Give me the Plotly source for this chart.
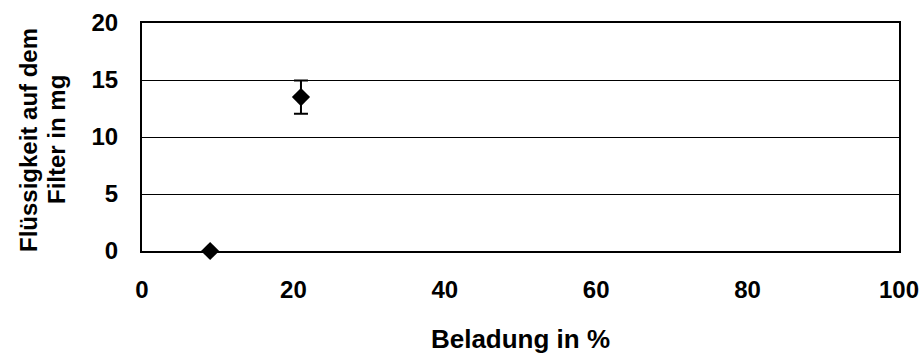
import plotly.graph_objects as go

# Loading (%) vs. liquid retained on the filter (mg)
beladung = [9, 21]
fluessigkeit = [0.0, 13.5]
fehler = [0.0, 1.45]

x_ticks = [0, 20, 40, 60, 80, 100]
y_ticks = [0, 5, 10, 15, 20]

x_title = "Beladung in %"
y_title_lines = ["Flüssigkeit auf dem", "Filter in mg"]

font_family = "Liberation Sans, Arial, sans-serif"

fig = go.Figure()
fig.add_trace(go.Scatter(
    x=beladung,
    y=fluessigkeit,
    mode="markers",
    marker=dict(symbol="diamond", size=14, color="black"),
    error_y=dict(type="data", array=fehler, visible=True,
                 color="black", thickness=2, width=7),
    cliponaxis=False,
    showlegend=False,
))

fig.update_layout(
    width=924,
    height=354,
    margin=dict(l=142, r=25, t=23, b=103, autoexpand=False),
    paper_bgcolor="white",
    plot_bgcolor="white",
    font=dict(family=font_family, color="black", size=24, weight="bold"),
)

fig.update_xaxes(
    range=[0, 100],
    tickvals=x_ticks,
    ticktext=[str(v) for v in x_ticks],
    showgrid=False,
    zeroline=False,
    showline=True,
    linecolor="black",
    linewidth=2,
    mirror=True,
    ticks="",
    ticklabelstandoff=16,
    tickfont=dict(size=24, weight="bold"),
    title=dict(text=x_title, font=dict(size=26, weight="bold"), standoff=29),
)

fig.update_yaxes(
    range=[0, 20],
    tickvals=y_ticks,
    ticktext=[str(v) for v in y_ticks],
    showgrid=True,
    gridcolor="black",
    gridwidth=1,
    zeroline=False,
    showline=True,
    linecolor="black",
    linewidth=2,
    mirror=True,
    ticks="",
    ticklabelstandoff=17,
    tickfont=dict(size=24, weight="bold"),
)

# Two-line rotated y-axis title, each line placed separately for tight spacing
for shift, line in zip([-114, -86], y_title_lines):
    fig.add_annotation(
        text=line,
        xref="paper", yref="paper",
        x=0, y=0.5,
        xanchor="center", yanchor="middle",
        xshift=shift, yshift=-3,
        textangle=-90,
        showarrow=False,
        font=dict(size=24, weight="bold", family=font_family, color="black"),
    )

fig.write_html("out.html")
